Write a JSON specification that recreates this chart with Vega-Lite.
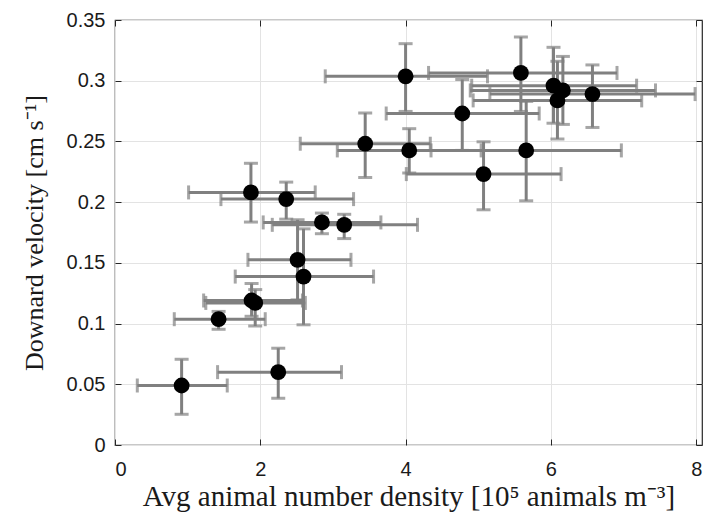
{
  "$schema": "https://vega.github.io/schema/vega-lite/v6.json",
  "autosize": {"type": "none"},
  "padding": {"left": 115, "top": 20, "right": 14, "bottom": 75},
  "width": 587,
  "height": 425,
  "background": "white",
  "view": {"stroke": "#262626", "strokeWidth": 1.2, "fill": "white"},
  "config": {
    "axis": {
      "domain": false,
      "grid": true,
      "gridColor": "#e3e3e3",
      "gridWidth": 1,
      "tickColor": "#262626",
      "tickSize": -6,
      "labelFont": "Liberation Sans",
      "labelFontSize": 20,
      "labelColor": "#1a1a1a",
      "titleFont": "Liberation Serif",
      "titleFontSize": 27,
      "titleFontWeight": "normal",
      "titleColor": "#1a1a1a"
    }
  },
  "data": {
    "values": [
      {"x": 0.917, "y": 0.049, "xlo": 0.307, "xhi": 1.545, "ylo": 0.0253, "yhi": 0.0706},
      {"x": 2.247, "y": 0.06, "xlo": 1.412, "xhi": 3.118, "ylo": 0.0385, "yhi": 0.0797},
      {"x": 1.426, "y": 0.1036, "xlo": 0.816, "xhi": 2.068, "ylo": 0.0953, "yhi": 0.110},
      {"x": 1.88, "y": 0.119, "xlo": 1.22, "xhi": 2.58, "ylo": 0.106, "yhi": 0.133},
      {"x": 1.93, "y": 0.117, "xlo": 1.25, "xhi": 2.62, "ylo": 0.098, "yhi": 0.128},
      {"x": 2.513, "y": 0.1525, "xlo": 1.83, "xhi": 3.248, "ylo": 0.1195, "yhi": 0.1855},
      {"x": 2.595, "y": 0.1387, "xlo": 1.655, "xhi": 3.559, "ylo": 0.099, "yhi": 0.178},
      {"x": 2.848, "y": 0.1833, "xlo": 2.04, "xhi": 3.66, "ylo": 0.174, "yhi": 0.191},
      {"x": 3.155, "y": 0.1813, "xlo": 2.165, "xhi": 4.164, "ylo": 0.170, "yhi": 0.190},
      {"x": 1.871, "y": 0.208, "xlo": 1.013, "xhi": 2.756, "ylo": 0.1836, "yhi": 0.232},
      {"x": 2.357, "y": 0.2025, "xlo": 1.458, "xhi": 3.284, "ylo": 0.186, "yhi": 0.2165},
      {"x": 3.444, "y": 0.2481, "xlo": 2.55, "xhi": 4.34, "ylo": 0.2203, "yhi": 0.2734},
      {"x": 4.05, "y": 0.2426, "xlo": 3.06, "xhi": 5.04, "ylo": 0.224, "yhi": 0.2605},
      {"x": 5.073, "y": 0.2231, "xlo": 4.01, "xhi": 6.14, "ylo": 0.1937, "yhi": 0.2497},
      {"x": 5.66, "y": 0.2426, "xlo": 4.35, "xhi": 6.97, "ylo": 0.2011, "yhi": 0.283},
      {"x": 4.78, "y": 0.273, "xlo": 3.733, "xhi": 5.839, "ylo": 0.2426, "yhi": 0.301},
      {"x": 4.0, "y": 0.3036, "xlo": 2.894, "xhi": 5.127, "ylo": 0.2747, "yhi": 0.3305},
      {"x": 5.587, "y": 0.3064, "xlo": 4.316, "xhi": 6.91, "ylo": 0.2747, "yhi": 0.336},
      {"x": 6.036, "y": 0.2959, "xlo": 4.91, "xhi": 7.18, "ylo": 0.265, "yhi": 0.3275},
      {"x": 6.165, "y": 0.292, "xlo": 4.89, "xhi": 7.44, "ylo": 0.264, "yhi": 0.320},
      {"x": 6.09, "y": 0.2838, "xlo": 4.93, "xhi": 7.25, "ylo": 0.252, "yhi": 0.316},
      {"x": 6.572, "y": 0.289, "xlo": 5.16, "xhi": 7.985, "ylo": 0.2615, "yhi": 0.313}
    ]
  },
  "layer": [
    {
      "encoding": {
        "x": {
          "field": "x", "type": "quantitative",
          "scale": {"domain": [0, 8.08], "nice": false, "zero": false},
          "axis": {
            "orient": "bottom",
            "values": [0, 2, 4, 6, 8],
            "labelPadding": 20,
            "title": "Avg animal number density [10⁵ animals m⁻³]",
            "titleFontSize": 29,
            "titlePadding": 3
          }
        },
        "y": {
          "field": "y", "type": "quantitative",
          "scale": {"domain": [0, 0.35], "nice": false, "zero": false},
          "axis": {
            "orient": "left",
            "values": [0, 0.05, 0.1, 0.15, 0.2, 0.25, 0.3, 0.35],
            "format": "~g",
            "labelPadding": 16,
            "title": "Downard velocity [cm s⁻¹]",
            "titleFontSize": 26,
            "titlePadding": 19
          }
        }
      },
      "layer": [
        {
          "mark": {"type": "rule", "color": "#808080", "strokeWidth": 3},
          "encoding": {"x": {"field": "xlo", "type": "quantitative"}, "x2": {"field": "xhi"}}
        },
        {
          "mark": {"type": "rule", "color": "#808080", "strokeWidth": 3},
          "encoding": {"y": {"field": "ylo", "type": "quantitative"}, "y2": {"field": "yhi"}}
        },
        {
          "mark": {"type": "tick", "orient": "vertical", "color": "#808080", "thickness": 3, "size": 14},
          "encoding": {"x": {"field": "xlo", "type": "quantitative"}}
        },
        {
          "mark": {"type": "tick", "orient": "vertical", "color": "#808080", "thickness": 3, "size": 14},
          "encoding": {"x": {"field": "xhi", "type": "quantitative"}}
        },
        {
          "mark": {"type": "tick", "orient": "horizontal", "color": "#808080", "thickness": 3, "size": 14},
          "encoding": {"y": {"field": "ylo", "type": "quantitative"}}
        },
        {
          "mark": {"type": "tick", "orient": "horizontal", "color": "#808080", "thickness": 3, "size": 14},
          "encoding": {"y": {"field": "yhi", "type": "quantitative"}}
        },
        {
          "mark": {"type": "point", "shape": "circle", "filled": true, "color": "black", "opacity": 1, "size": 250}
        }
      ]
    },
    {
      "mark": {"type": "point", "opacity": 0},
      "encoding": {
        "x": {
          "field": "x", "type": "quantitative",
          "axis": {"orient": "top", "values": [0, 2, 4, 6, 8], "labels": false, "grid": false, "title": null}
        },
        "y": {
          "field": "y", "type": "quantitative",
          "axis": {"orient": "right", "values": [0, 0.05, 0.1, 0.15, 0.2, 0.25, 0.3, 0.35], "labels": false, "grid": false, "title": null}
        }
      }
    }
  ],
  "resolve": {"axis": {"x": "independent", "y": "independent"}}
}
